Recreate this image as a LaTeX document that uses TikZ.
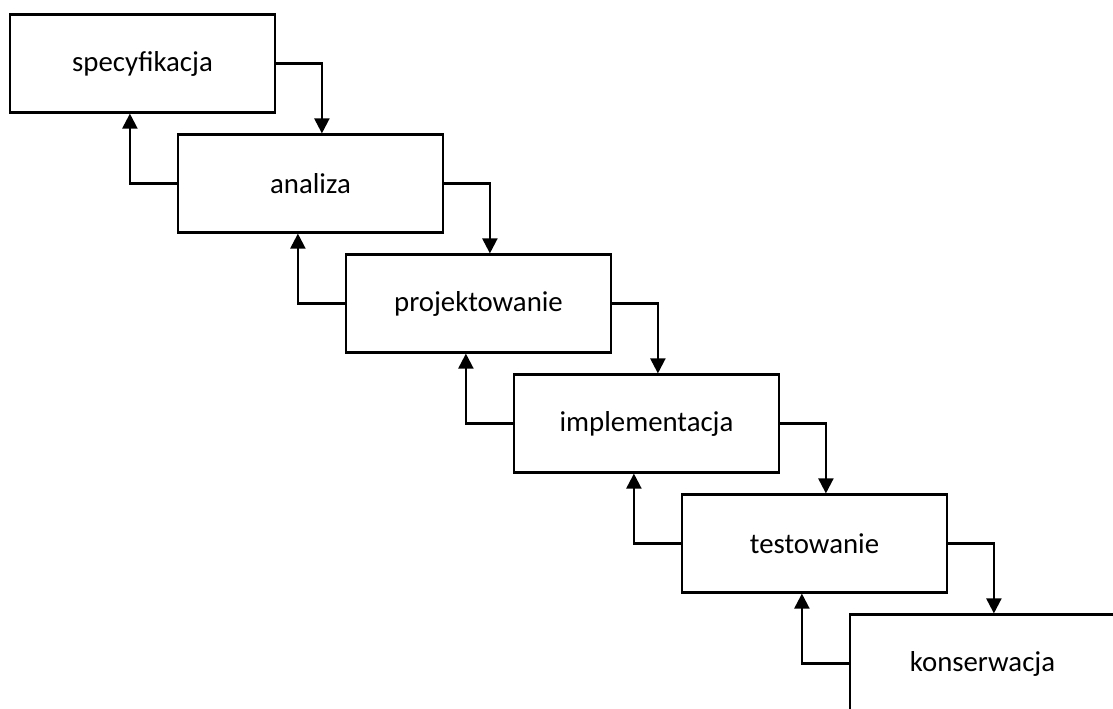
\documentclass[tikz,border=0pt]{standalone}
\usepackage{fontspec}
\setmainfont{Carlito}
\usetikzlibrary{arrows.meta,calc}

\tikzset{
  phase/.style={draw=black, line width=2.2pt, fill=white, minimum width=265pt,
    minimum height=98pt, inner sep=0pt, font=\fontsize{28.8}{34}\selectfont},
  link/.style={draw=black, line width=2.2pt,
    -{Triangle[width=15pt,length=15pt]}}
}

\begin{document}
\begin{tikzpicture}[x=1pt,y=-1pt]
  \useasboundingbox (0,0) rectangle (1113,709);
  \clip (0,0) rectangle (1113,709);

  % waterfall stages
  \node[phase] (s1) at (142.5, 63.5) {specyfikacja};
  \node[phase] (s2) at (310.5,183.5) {analiza};
  \node[phase] (s3) at (478.5,303.5) {projektowanie};
  \node[phase] (s4) at (646.5,423.5) {implementacja};
  \node[phase] (s5) at (814.5,543.5) {testowanie};
  \node[phase] (s6) at (982.5,663.5) {konserwacja};

  % forward steps and feedback loops between consecutive stages
  \foreach \a/\b in {s1/s2, s2/s3, s3/s4, s4/s5, s5/s6} {
    \draw[link] (\a.east) -| ($(\b.north west)+(145,0)$);
    \draw[link] (\b.west) -| ($(\a.south west)+(121,0)$);
  }
\end{tikzpicture}
\end{document}
